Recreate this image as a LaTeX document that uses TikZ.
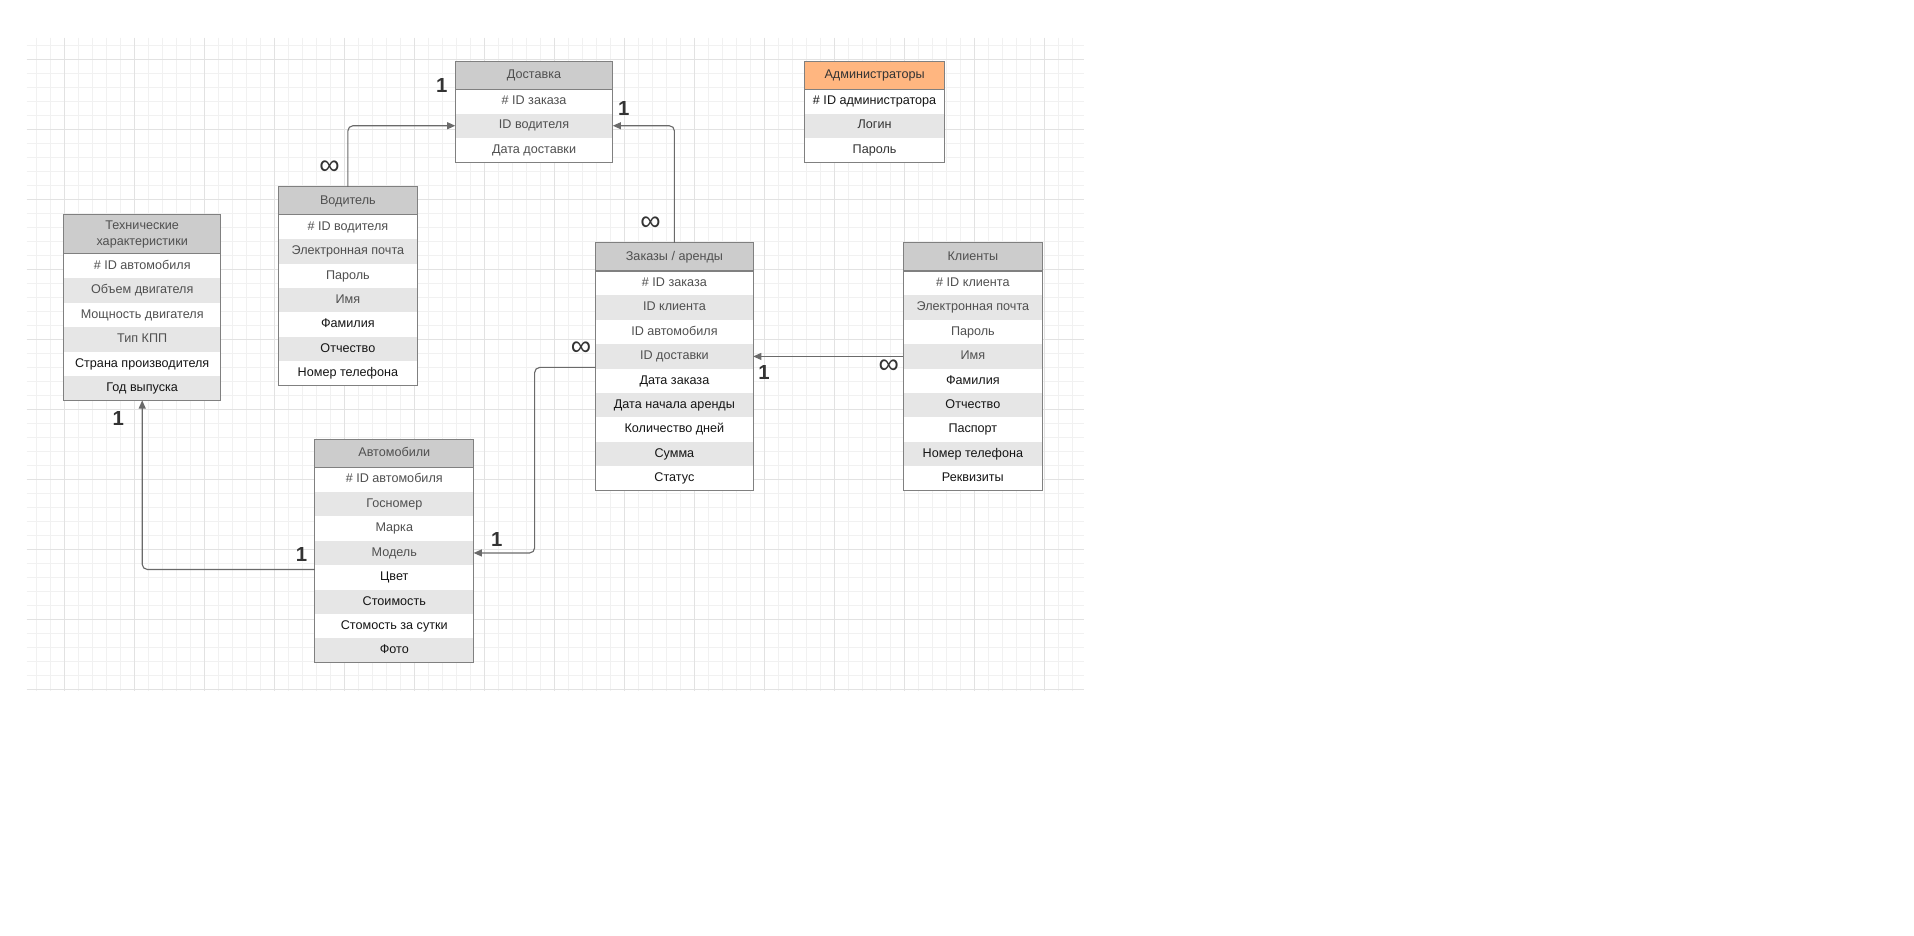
\documentclass[tikz,border=0pt]{standalone}
\usepackage{fontspec}
\setmainfont{Liberation Sans}
\usetikzlibrary{positioning, arrows.meta}

\definecolor{tblline}{HTML}{808080}
\definecolor{headgray}{HTML}{CCCCCC}
\definecolor{headorange}{HTML}{FFB680}
\definecolor{rowgray}{HTML}{E6E6E6}
\definecolor{txtgray}{HTML}{505050}
\definecolor{txtdark}{HTML}{151515}
\definecolor{connline}{HTML}{6A6A6A}
\definecolor{gridmajor}{HTML}{E2E2E2}
\definecolor{gridminor}{HTML}{F1F1F1}
\definecolor{cardtxt}{HTML}{333333}

\newcommand\tblfont{\fontsize{6.2}{7.8}\selectfont}

\begin{document}
\begin{tikzpicture}[
  x=0.6pt, y=-0.6pt,
  node distance=0pt,
  tblhead/.style={rectangle, fill=headgray, text=txtgray, anchor=north west,
                  minimum height=13.8pt, inner sep=0pt, outer sep=0pt, font=\tblfont,
                  align=center, text height=4.6pt, text depth=1.4pt},
  fld/.style={rectangle, fill=white, text=txtgray, minimum height=12pt,
              inner sep=0pt, outer sep=0pt, font=\tblfont,
              text height=4.6pt, text depth=1.4pt},
  grayrow/.style={fill=rowgray},
  darktxt/.style={text=txtdark},
  frame/.style={draw=tblline, line width=0.5pt},
  conn/.style={draw=connline, line width=0.55pt, rounded corners=2.5pt,
               -{Triangle[length=4pt, width=3.4pt]}},
  one/.style={font=\fontsize{10}{10}\selectfont\bfseries, text=cardtxt, inner sep=0pt},
  many/.style={font=\fontsize{14}{14}\selectfont, text=cardtxt, inner sep=0pt}
]
\useasboundingbox[fill=white] (0,0) rectangle (1568,766);

% Grid
\begin{scope}
  \clip (22,31) rectangle (888,565.5);
  \foreach \k in {-3,...,73}
    \draw[gridminor, line width=0.5pt] (52.6+11.47*\k,31) -- (52.6+11.47*\k,566);
  \foreach \k in {-2,...,46}
    \draw[gridminor, line width=0.5pt] (22,49+11.47*\k) -- (888,49+11.47*\k);
  \foreach \k in {0,...,14}
    \draw[gridmajor, line width=0.6pt] (52.6+57.35*\k,31) -- (52.6+57.35*\k,566);
  \foreach \k in {0,...,9}
    \draw[gridmajor, line width=0.6pt] (22,49+57.35*\k) -- (888,49+57.35*\k);
\end{scope}

% Доставка
\begin{scope}[every node/.append style={minimum width=77.4pt}]
\node[tblhead] (dost) at (373,50) {Доставка};
\node[fld, below=of dost] (dost1) {\# ID заказа};
\node[fld, grayrow, below=of dost1] (dost2) {ID водителя};
\node[fld, below=of dost2] (dost3) {Дата доставки};
\end{scope}
\draw[frame] (dost.north west) rectangle (dost3.south east) (dost.south west) -- (dost.south east);

% Администраторы
\begin{scope}[every node/.append style={minimum width=69pt}]
\node[tblhead, fill=headorange, text=cardtxt] (adm) at (659,50) {Администраторы};
\node[fld, darktxt, below=of adm] (adm1) {\# ID администратора};
\node[fld, grayrow, text=cardtxt, below=of adm1] (adm2) {Логин};
\node[fld, text=cardtxt, below=of adm2] (adm3) {Пароль};
\end{scope}
\draw[frame] (adm.north west) rectangle (adm3.south east) (adm.south west) -- (adm.south east);

% Водитель
\begin{scope}[every node/.append style={minimum width=68.4pt}]
\node[tblhead] (vod) at (228,153) {Водитель};
\node[fld, below=of vod] (vod1) {\# ID водителя};
\node[fld, grayrow, below=of vod1] (vod2) {Электронная почта};
\node[fld, below=of vod2] (vod3) {Пароль};
\node[fld, grayrow, below=of vod3] (vod4) {Имя};
\node[fld, darktxt, below=of vod4] (vod5) {Фамилия};
\node[fld, grayrow, darktxt, below=of vod5] (vod6) {Отчество};
\node[fld, darktxt, below=of vod6] (vod7) {Номер телефона};
\end{scope}
\draw[frame] (vod.north west) rectangle (vod7.south east) (vod.south west) -- (vod.south east);

% Технические характеристики
\begin{scope}[every node/.append style={minimum width=77.4pt}]
\node[tblhead, minimum height=19.2pt, text height=, text depth=] (teh) at (52,176) {Технические\\характеристики};
\node[fld, below=of teh] (teh1) {\# ID автомобиля};
\node[fld, grayrow, below=of teh1] (teh2) {Объем двигателя};
\node[fld, below=of teh2] (teh3) {Мощность двигателя};
\node[fld, grayrow, below=of teh3] (teh4) {Тип КПП};
\node[fld, darktxt, below=of teh4] (teh5) {Страна производителя};
\node[fld, grayrow, darktxt, below=of teh5] (teh6) {Год выпуска};
\end{scope}
\draw[frame] (teh.north west) rectangle (teh6.south east) (teh.south west) -- (teh.south east);

% Заказы / аренды
\begin{scope}[every node/.append style={minimum width=77.4pt}]
\node[tblhead] (zak) at (488,199) {Заказы / аренды};
\node[fld, below=of zak] (zak1) {\# ID заказа};
\node[fld, grayrow, below=of zak1] (zak2) {ID клиента};
\node[fld, below=of zak2] (zak3) {ID автомобиля};
\node[fld, grayrow, below=of zak3] (zak4) {ID доставки};
\node[fld, darktxt, below=of zak4] (zak5) {Дата заказа};
\node[fld, grayrow, darktxt, below=of zak5] (zak6) {Дата начала аренды};
\node[fld, darktxt, below=of zak6] (zak7) {Количество дней};
\node[fld, grayrow, darktxt, below=of zak7] (zak8) {Сумма};
\node[fld, darktxt, below=of zak8] (zak9) {Статус};
\end{scope}
\draw[frame] (zak.north west) rectangle (zak9.south east) (zak.south west) -- (zak.south east);

% Клиенты
\begin{scope}[every node/.append style={minimum width=68.4pt}]
\node[tblhead] (kli) at (740,199) {Клиенты};
\node[fld, below=of kli] (kli1) {\# ID клиента};
\node[fld, grayrow, below=of kli1] (kli2) {Электронная почта};
\node[fld, below=of kli2] (kli3) {Пароль};
\node[fld, grayrow, below=of kli3] (kli4) {Имя};
\node[fld, darktxt, below=of kli4] (kli5) {Фамилия};
\node[fld, grayrow, darktxt, below=of kli5] (kli6) {Отчество};
\node[fld, darktxt, below=of kli6] (kli7) {Паспорт};
\node[fld, grayrow, darktxt, below=of kli7] (kli8) {Номер телефона};
\node[fld, darktxt, below=of kli8] (kli9) {Реквизиты};
\end{scope}
\draw[frame] (kli.north west) rectangle (kli9.south east) (kli.south west) -- (kli.south east);

% Автомобили
\begin{scope}[every node/.append style={minimum width=78pt}]
\node[tblhead] (avto) at (258,360) {Автомобили};
\node[fld, below=of avto] (avto1) {\# ID автомобиля};
\node[fld, grayrow, below=of avto1] (avto2) {Госномер};
\node[fld, below=of avto2] (avto3) {Марка};
\node[fld, grayrow, below=of avto3] (avto4) {Модель};
\node[fld, darktxt, below=of avto4] (avto5) {Цвет};
\node[fld, grayrow, darktxt, below=of avto5] (avto6) {Стоимость};
\node[fld, darktxt, below=of avto6] (avto7) {Стомость за сутки};
\node[fld, grayrow, darktxt, below=of avto7] (avto8) {Фото};
\end{scope}
\draw[frame] (avto.north west) rectangle (avto8.south east) (avto.south west) -- (avto.south east);

% Connectors
\draw[conn] (vod.north) |- (dost2.west);
\draw[conn] (zak.north) |- (dost2.east);
\draw[conn] (kli4.west) -- (zak4.east);
\draw[conn] ([yshift=0.6pt]zak4.south west) -- ++(-50,0) |- (avto4.east);
\draw[conn] ([yshift=-2.1pt]avto5.north west) -| (teh6.south);

% Cardinalities
\node[many] (m1) at (270,137) {∞};
\node[one] (o1) at (362,70) {1};
\node[one] (o2) at (511,89) {1};
\node[many] (m2) at (533,183) {∞};
\node[one] (o3) at (626,305) {1};
\node[many] (m3) at (728,300) {∞};
\node[many] (m4) at (476,286) {∞};
\node[one] (o4) at (407,442) {1};
\node[one] (o5) at (247,454) {1};
\node[one] (o6) at (97,343) {1};

\end{tikzpicture}
\end{document}
